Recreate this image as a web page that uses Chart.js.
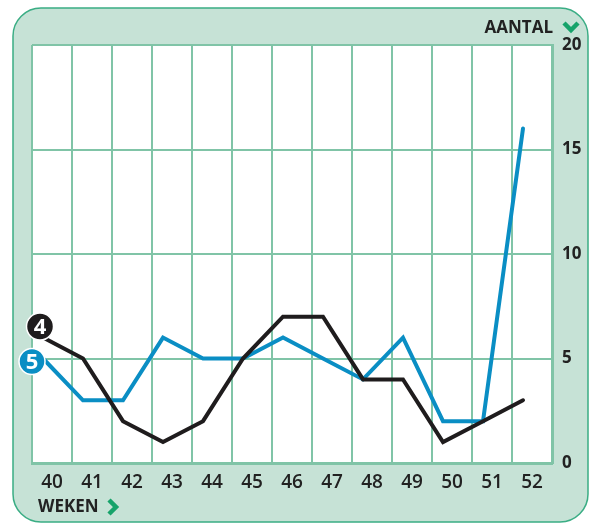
<!DOCTYPE html>
<html>
<head>
<meta charset="utf-8">
<script src="https://cdn.jsdelivr.net/npm/chart.js@4"></script>
<style>
  body { margin: 0; background: #fff; }
  #wrap { width: 591px; height: 524px; position: relative; }
</style>
</head>
<body>
<div id="wrap"><canvas id="myChart"></canvas></div>
<script>
// data
const weeks = ['40', '41', '42', '43', '44', '45', '46', '47', '48', '49', '50', '51', '52'];
const series4 = [6, 5, 2, 1, 2, 5, 7, 7, 4, 4, 1, 2, 3];
const series5 = [5, 3, 3, 6, 5, 5, 6, 5, 4, 6, 2, 2, 16];
const yTicks = [0, 5, 10, 15, 20];

const gridGreen = '#80c4a7';
const panelFill = '#c6e2d6';
const panelLine = '#3aad84';
const arrowGreen = '#16a36a';

function points(values) {
    return weeks.map((w, i) => ({ x: Number(w), y: values[i] }));
}

const framePlugin = {
    id: 'frame',
    beforeDraw(chart) {
        const ctx = chart.ctx;
        const a = chart.chartArea;
        ctx.save();
        ctx.fillStyle = '#fff';
        ctx.fillRect(0, 0, chart.width, chart.height);
        ctx.beginPath();
        ctx.roundRect(13, 8, 575, 514, 28);
        ctx.fillStyle = panelFill;
        ctx.fill();
        ctx.lineWidth = 1.5;
        ctx.strokeStyle = panelLine;
        ctx.stroke();
        ctx.fillStyle = '#fff';
        ctx.fillRect(a.left, a.top, a.right - a.left, a.bottom - a.top);

        // axis titles
        ctx.fillStyle = '#222';
        ctx.font = '700 17px "Open Sans"';
        ctx.textBaseline = 'middle';
        ctx.textAlign = 'right';
        ctx.fillText('AANTAL', 553, 28);
        ctx.textAlign = 'left';
        ctx.fillText('WEKEN', 38, 507);

        // chevrons
        ctx.strokeStyle = arrowGreen;
        ctx.lineWidth = 4.5;
        ctx.lineCap = 'butt';
        ctx.lineJoin = 'miter';
        ctx.beginPath();
        ctx.moveTo(564, 23);
        ctx.lineTo(571, 30);
        ctx.lineTo(578, 23);
        ctx.stroke();
        ctx.beginPath();
        ctx.moveTo(109, 500);
        ctx.lineTo(116, 507);
        ctx.lineTo(109, 514);
        ctx.stroke();
        ctx.restore();
    },
    afterDatasetsDraw(chart) {
        const ctx = chart.ctx;
        const xs = chart.scales.xd;
        const ys = chart.scales.y;
        const marks = [
            { label: '4', color: '#1f1c1d', dx: -3, dy: -11, r: 13.5, v: series4[0] },
            { label: '5', color: '#0a8ec4', dx: -11, dy: 3, r: 13, v: series5[0] }
        ];
        ctx.save();
        marks.forEach(m => {
            const cx = xs.getPixelForValue(Number(weeks[0])) + m.dx;
            const cy = ys.getPixelForValue(m.v) + m.dy;
            ctx.beginPath();
            ctx.arc(cx, cy, m.r, 0, Math.PI * 2);
            ctx.fillStyle = m.color;
            ctx.fill();
            ctx.lineWidth = 1.5;
            ctx.strokeStyle = '#fff';
            ctx.stroke();
            ctx.fillStyle = '#fff';
            ctx.font = '700 22px "Open Sans"';
            ctx.textAlign = 'center';
            ctx.textBaseline = 'middle';
            ctx.fillText(m.label, cx, cy + 1);
        });
        ctx.restore();
    }
};

new Chart(document.getElementById('myChart'), {
    type: 'line',
    data: {
        datasets: [{
            label: '4',
            data: points(series4),
            borderColor: '#1f1c1d',
            borderWidth: 4,
            pointRadius: 0,
            tension: 0,
            borderCapStyle: 'round',
            xAxisID: 'xd',
            yAxisID: 'y',
            order: 1
        }, {
            label: '5',
            data: points(series5),
            borderColor: '#0a8ec4',
            borderWidth: 4,
            pointRadius: 0,
            tension: 0,
            borderCapStyle: 'round',
            xAxisID: 'xd',
            yAxisID: 'y',
            order: 2
        }]
    },
    options: {
        responsive: true,
        maintainAspectRatio: false,
        animation: false,
        layout: { padding: { left: 32, top: 45, right: 0, bottom: 0 } },
        plugins: { legend: { display: false }, tooltip: { enabled: false } },
        scales: {
            x: {
                type: 'category',
                labels: weeks,
                offset: true,
                grid: { offset: true, color: gridGreen, lineWidth: 2, drawTicks: false },
                border: { color: gridGreen, width: 3 },
                ticks: { padding: 8, color: '#222', font: { family: 'Open Sans', size: 19, weight: '600' } },
                afterFit: s => { s.height = 61; }
            },
            xd: {
                type: 'linear',
                display: false,
                min: 39.725,
                max: 52.725
            },
            y: {
                position: 'right',
                min: yTicks[0],
                max: yTicks[yTicks.length - 1],
                afterBuildTicks: s => { s.ticks = yTicks.map(v => ({ value: v })); },
                grid: { color: gridGreen, lineWidth: 2, drawTicks: false },
                border: { color: gridGreen, width: 3 },
                ticks: { padding: 10, color: '#222', font: { family: 'Open Sans', size: 17, weight: '700' } },
                afterFit: s => { s.width = 39; }
            }
        }
    },
    plugins: [framePlugin]
});
</script>
</body>
</html>
